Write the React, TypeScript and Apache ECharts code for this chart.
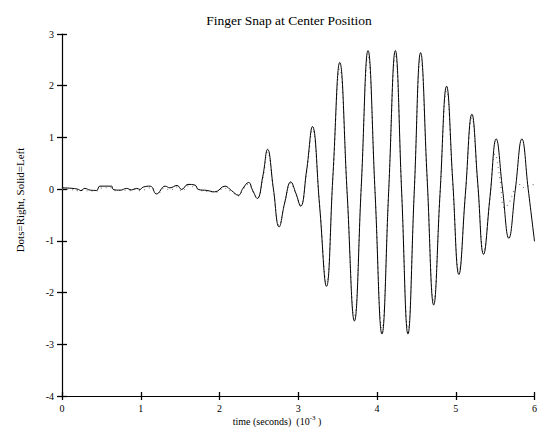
import React, { useEffect, useRef } from "react";
import * as echarts from "echarts";

// Left channel (solid) — time in ms, amplitude
const leftTime = [
  0.0, 0.14, 0.21, 0.24, 0.29, 0.36, 0.44, 0.48, 0.63, 0.65, 0.74, 0.82, 0.88, 0.95, 0.99, 1.03,
  1.12, 1.2, 1.31, 1.37, 1.46, 1.52, 1.6, 1.69, 1.73, 1.84, 1.94, 2.07, 2.15, 2.24,
  2.3, 2.37, 2.42, 2.48, 2.55, 2.61, 2.685, 2.757, 2.83, 2.905, 2.97, 3.03, 3.105, 3.18,
  3.27, 3.358, 3.44, 3.527, 3.62, 3.713, 3.8, 3.886, 3.975, 4.063, 4.148, 4.233, 4.313,
  4.393, 4.473, 4.554, 4.637, 4.72, 4.8, 4.884, 4.962, 5.04, 5.122, 5.205, 5.28, 5.353,
  5.435, 5.514, 5.594, 5.674, 5.757, 5.84, 5.92, 6.0,
];
const leftValue = [
  0.025, 0.014, -0.006, -0.03, 0.014, -0.02, -0.025, 0.058, 0.058, -0.006, -0.02, 0.014, -0.014,
  0.014, -0.006, 0.039, 0.058, -0.092, 0.058, 0.025, 0.072, -0.006, 0.092, 0.078, -0.006, -0.025,
  -0.053, 0.058, -0.025, -0.117,
  0.02, 0.13, -0.02, -0.18, 0.25, 0.77, 0.0, -0.73, -0.25, 0.14, -0.08, -0.33, 0.35, 1.21,
  -0.3, -1.88, 0.25, 2.45, -0.05, -2.55, 0.05, 2.68, -0.05, -2.8, -0.05, 2.68, -0.05,
  -2.8, -0.05, 2.64, 0.2, -2.24, -0.1, 1.99, 0.15, -1.65, -0.1, 1.45, 0.1, -1.26,
  -0.15, 0.97, 0.0, -0.95, 0.0, 0.97, 0.0, -1.01,
];

// Right channel (dots)
const rightTime = [
  0.0, 0.12, 0.2, 0.27, 0.35, 0.43, 0.49, 0.62, 0.68, 0.76, 0.85, 0.93, 1.0, 1.08, 1.14, 1.21,
  1.3, 1.38, 1.45, 1.53, 1.6, 1.7, 1.78, 1.86, 1.96, 2.06, 2.16, 2.24,
  2.3, 2.37, 2.42, 2.48, 2.55, 2.61, 2.685, 2.757, 2.83, 2.905, 2.97, 3.03, 3.105, 3.18,
  3.27, 3.358, 3.44, 3.527, 3.62, 3.713, 3.8, 3.886, 3.975, 4.063, 4.148, 4.233, 4.313,
  4.393, 4.473, 4.554, 4.637, 4.72, 4.8, 4.884, 4.962, 5.04, 5.122, 5.205, 5.28, 5.353,
  5.43, 5.5, 5.56, 5.62, 5.7, 5.725, 5.81, 5.87, 5.93, 6.0,
];
const rightValue = [
  0.0, -0.01, -0.03, -0.01, -0.04, -0.04, 0.02, 0.03, -0.03, -0.02, -0.03, 0.0, -0.03, 0.01, 0.03,
  -0.1, 0.02, -0.02, 0.04, -0.04, 0.06, 0.03, -0.03, -0.05, -0.06, 0.02, -0.06, -0.13,
  0.0, 0.1, -0.04, -0.17, 0.2, 0.72, -0.02, -0.7, -0.24, 0.12, -0.1, -0.31, 0.3, 1.15,
  -0.28, -1.8, 0.2, 2.33, -0.05, -2.45, 0.05, 2.56, -0.05, -2.7, -0.05, 2.57, -0.05,
  -2.7, -0.05, 2.52, 0.15, -2.15, -0.1, 1.9, 0.1, -1.58, -0.1, 1.38, 0.08, -1.22,
  -0.23, 0.68, 0.2, -0.36, -0.2, -0.07, 0.09, 0.03, 0.07, 0.09,
];

const xTicks = [0, 1, 2, 3, 4, 5, 6];
const yTicks = [-4, -3, -2, -1, 0, 1, 2, 3];

const titleText = "Finger Snap at Center Position";
const yName = "Dots=Right, Solid=Left";

const FONT = "'Liberation Serif', 'DejaVu Serif', serif";

export default function App() {
  const ref = useRef<HTMLDivElement>(null);
  useEffect(() => {
    if (!ref.current) return;
    const chart = echarts.init(ref.current, undefined, { renderer: "svg" });
    const leftData = leftTime.map((t, i) => [t, leftValue[i]]);
    const rightData = rightTime.map((t, i) => [t, rightValue[i]]);
    const axisLine = { show: true, onZero: false, lineStyle: { color: "#000", width: 1.2 } };
    const hiddenLine = { show: false, onZero: false };
    const tickStyle = { color: "#000", width: 1.3 };
    const label = { fontFamily: FONT, fontSize: 10, color: "#000" };
    chart.setOption({
      animation: false,
      backgroundColor: "#fff",
      grid: { left: 62, right: 5, top: 34, bottom: 39, containLabel: false },
      xAxis: [
        {
          type: "value",
          position: "bottom",
          min: xTicks[0],
          max: xTicks[xTicks.length - 1],
          interval: 1,
          axisLine,
          axisTick: { show: true, length: 4, lineStyle: tickStyle },
          axisLabel: { ...label, margin: 7 },
          splitLine: { show: false },
        },
        {
          type: "value",
          position: "bottom",
          offset: 0,
          min: xTicks[0],
          max: xTicks[xTicks.length - 1],
          interval: 1,
          axisLine: hiddenLine,
          axisTick: { show: true, inside: true, length: 4, lineStyle: tickStyle },
          axisLabel: { show: false },
          splitLine: { show: false },
        },
      ],
      yAxis: [
        {
          type: "value",
          position: "left",
          min: yTicks[0],
          max: yTicks[yTicks.length - 1],
          interval: 1,
          axisLine,
          axisTick: { show: true, length: 5, lineStyle: tickStyle },
          axisLabel: { ...label, margin: 8 },
          splitLine: { show: false },
        },
        {
          type: "value",
          position: "left",
          offset: 0,
          min: yTicks[0],
          max: yTicks[yTicks.length - 1],
          interval: 1,
          axisLine: hiddenLine,
          axisTick: { show: true, inside: true, length: 5, lineStyle: tickStyle },
          axisLabel: { show: false },
          splitLine: { show: false },
        },
      ],
      series: [
        {
          type: "line",
          name: "Right",
          data: rightData,
          showSymbol: false,
          smooth: 0.45,
          lineStyle: { color: "#777", width: 1.1, type: [1, 4] },
          z: 2,
        },
        {
          type: "line",
          name: "Left",
          data: leftData,
          showSymbol: false,
          smooth: 0.45,
          lineStyle: { color: "#000", width: 1 },
          z: 3,
        },
      ],
      graphic: [
        {
          type: "text",
          x: 289,
          y: 20,
          style: {
            text: titleText,
            font: `13.5px ${FONT}`,
            fill: "#000",
            align: "center",
            verticalAlign: "middle",
          },
        },
        {
          type: "text",
          x: 20,
          y: 200,
          rotation: Math.PI / 2,
          style: {
            text: yName,
            font: `11px ${FONT}`,
            fill: "#000",
            align: "center",
            verticalAlign: "middle",
          },
        },
        {
          type: "text",
          x: 277,
          y: 421,
          style: {
            text: "time (seconds)  (10{sup|-3} )",
            font: `10px ${FONT}`,
            fill: "#000",
            align: "center",
            verticalAlign: "middle",
            rich: {
              sup: { fontSize: 7, fontFamily: FONT, verticalAlign: "top", lineHeight: 14, padding: [0, 0, 7, 0] },
            },
          },
        },
      ],
    });
    return () => chart.dispose();
  }, []);
  return (
    <div
      ref={ref}
      style={{ position: "absolute", left: 0, top: 0, width: 540, height: 435 }}
    />
  );
}
